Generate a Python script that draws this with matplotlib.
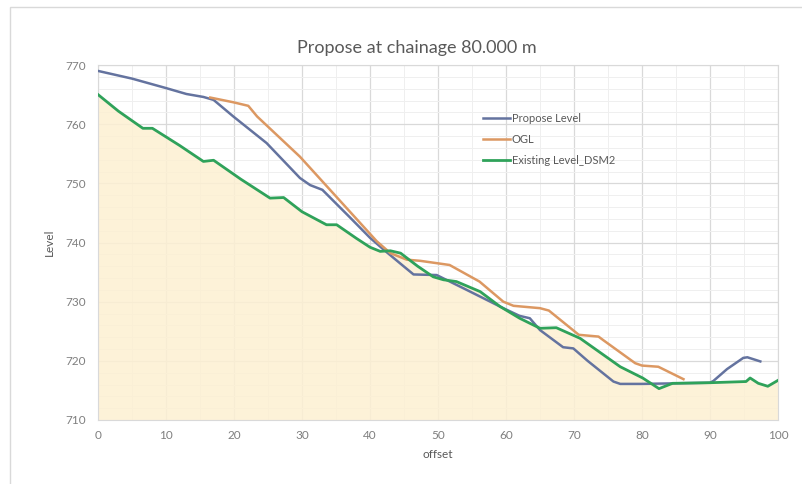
import numpy as np
import matplotlib
matplotlib.use("Agg")
import matplotlib.pyplot as plt
from matplotlib.patches import Rectangle
from matplotlib.ticker import MultipleLocator

plt.rcParams["font.family"] = ["Lato", "DejaVu Sans"]

# offset / level
propose_x = [0, 5, 10, 13, 15.5, 17, 19.9, 24.8, 29.7, 31.2, 33, 37, 40, 42, 44.4, 46.4, 49.8,
             54.2, 59.6, 62, 63.5, 65, 68.4, 69.9, 72, 75.8, 76.8, 80, 90, 90.5, 92.5, 94.9, 95.5, 97.4]
propose_y = [769, 767.7, 766.1, 765.1, 764.6, 764.1, 761.3, 756.8, 750.9, 749.7, 748.9, 744.3, 740.8,
             738.8, 736.5, 734.6, 734.5, 732, 728.9, 727.6, 727.2, 725.2, 722.3, 722.1, 720.0, 716.5,
             716.1, 716.1, 716.3, 716.6, 718.6, 720.5, 720.6, 719.9]

ogl_x = [16.5, 19.9, 22.1, 23.4, 29.7, 34.6, 38, 41, 43, 45.4, 47.4, 51.7, 56.1, 59.6, 61.1, 65, 66.3,
         70.7, 73.6, 74.3, 79.0, 80, 82.4, 86.1]
ogl_y = [764.5, 763.7, 763.1, 761.3, 754.5, 748.3, 744, 740.2, 738.2, 737.1, 736.9, 736.2, 733.4, 730.0,
         729.3, 728.9, 728.5, 724.4, 724.1, 723.5, 719.6, 719.2, 719.0, 716.9]

dsm_x = [0, 3, 6.6, 8, 12, 15.5, 17, 21, 25.3, 27.3, 30, 33.6, 35.1, 38, 40, 41.5, 43, 44.5, 47, 49.3,
         50.8, 52.7, 56.2, 59.1, 62, 65, 67.4, 70.9, 76.8, 80.1, 82.5, 84.5, 90, 95.3, 95.9, 97.1, 98.5, 100]
dsm_y = [765, 762.2, 759.3, 759.3, 756.4, 753.7, 753.9, 750.7, 747.5, 747.6, 745.2, 743, 743, 740.7,
         739.2, 738.5, 738.6, 738.2, 736, 734.2, 733.7, 733.4, 731.7, 729.2, 727.2, 725.5, 725.6, 723.8,
         719.0, 717.1, 715.3, 716.2, 716.3, 716.5, 717.1, 716.2, 715.7, 716.7]

W, H = 803, 484
fig = plt.figure(figsize=(W / 100, H / 100), dpi=100)
fig.patches.append(Rectangle((10 / W, -0.1), 1.2, 1 - 7 / H + 0.1, transform=fig.transFigure,
                             fill=False, edgecolor="#d9d9d9", lw=1))

ax = fig.add_axes([98 / W, 1 - 420 / H, 680 / W, 355 / H])
ax.set_xlim(0, 100)
ax.set_ylim(710, 770)
ax.xaxis.set_major_locator(MultipleLocator(10))
ax.xaxis.set_minor_locator(MultipleLocator(5))
ax.yaxis.set_major_locator(MultipleLocator(10))
ax.yaxis.set_minor_locator(MultipleLocator(2))
ax.grid(which="major", color="#d9d9d9", lw=0.9)
ax.grid(which="minor", color="#efefef", lw=0.7)
ax.set_axisbelow(True)
for s in ax.spines.values():
    s.set_color("#d9d9d9")
ax.tick_params(axis="x", which="both", length=0, colors="#7f7f7f", labelsize=8.5, pad=7)
ax.tick_params(axis="y", which="both", length=0, colors="#7f7f7f", labelsize=8.5, pad=9)

ax.fill_between(dsm_x, dsm_y, 710, color="#fdf0d2", alpha=0.85, lw=0, zorder=1)
ax.plot(propose_x, propose_y, color="#64739f", lw=1.8, label="Propose Level", zorder=3)
ax.plot(ogl_x, ogl_y, color="#dc9862", lw=1.8, label="OGL", zorder=3)
ax.plot(dsm_x, dsm_y, color="#2fa25a", lw=2.0, label="Existing Level_DSM2", zorder=4)

ax.set_xlabel("offset", color="#595959", fontsize=8.5, labelpad=6)
ax.set_ylabel("Level", color="#595959", fontsize=8.5, labelpad=7)
fig.text(417 / W, 1 - 48 / H, "Propose at chainage 80.000 m", ha="center", va="center",
         fontsize=13, color="#595959")

leg = ax.legend(loc="upper left", bbox_to_anchor=(483 / W, 1 - 113 / H),
                bbox_transform=fig.transFigure, frameon=False, fontsize=8,
                handlelength=2.4, handletextpad=0.2, labelspacing=0.9,
                borderpad=0, borderaxespad=0)
for t in leg.get_texts():
    t.set_color("#595959")

fig.savefig("out.png", dpi=100, facecolor="white")
